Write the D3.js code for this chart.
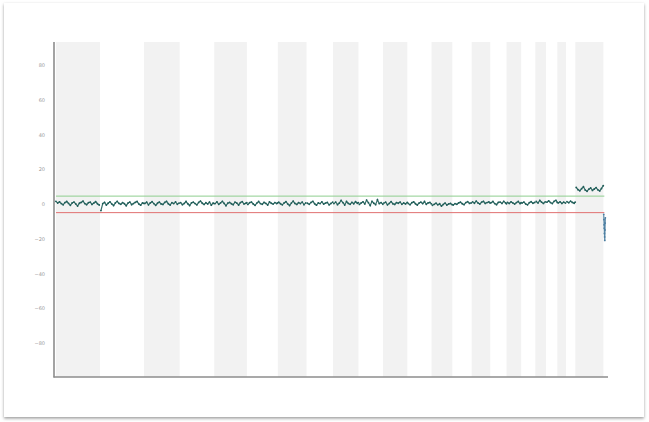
<!DOCTYPE html>
<html>
<head>
<meta charset="utf-8">
<script src="https://cdn.jsdelivr.net/npm/d3@7"></script>
<style>
  html, body { margin: 0; padding: 0; background: #ffffff; }
  svg { display: block; }
</style>
</head>
<body>
<svg id="chart" width="649" height="422"></svg>
<script>
// Chromosome names and lengths (Mb); Y only partly covered
const chromosomes = ["1","2","3","4","5","6","7","8","9","10","11","12","13","14","15","16","17","18","19","20","21","22","X","Y"];
const chromLengths = [249.3,243.2,198.0,191.2,180.9,171.1,159.1,146.4,141.2,135.5,135.0,133.9,115.2,107.3,102.5,90.4,81.2,78.1,59.1,63.0,48.1,51.3,155.3,15.0];

// Bin size (Mb) used for the per-chromosome values below
const binSize = 10;

// Copy-number deviation per bin, one list per chromosome
const chr1Values  = [1.5,0.5,1.2,0.2,-0.5,0.8,1.4,0.3,-0.8,0.6,1.1,0.0,-1.2,0.4,0.9,1.6,0.2,-0.4,0.7,1.0,-0.3,0.5,1.3,0.1,-0.6];
const chr2Values  = [-3.8,0.2,0.9,-0.6,0.4,1.2,0.0,-0.9,0.6,1.5,0.3,-0.2,0.8,0.1,-1.0,0.5,1.1,-0.4,0.2,0.9,1.4,0.0,-0.7,0.6,0.3];
const chr3Values  = [0.3,1.0,-0.5,0.6,1.3,0.2,-0.8,0.4,1.1,0.0,-0.3,0.9,1.5,0.1,-0.6,0.7,0.2,1.2,-0.2,0.5];
const chr4Values  = [0.8,-0.4,0.3,1.4,0.1,-0.9,0.6,1.0,0.2,-0.5,0.9,1.6,0.4,-0.3,0.7,0.0,1.1,-0.7,0.5,0.2];
const chr5Values  = [0.2,1.2,-0.2,0.6,1.5,0.3,-1.0,0.4,0.9,0.1,-0.4,1.0,0.5,-0.6,0.8,1.3,0.0,0.4,0.7];
const chr6Values  = [-0.3,0.7,1.1,0.0,-0.8,0.5,1.4,0.2,-0.2,0.9,0.3,-0.6,1.2,0.4,-0.1,0.8,0.2,0.6];
const chr7Values  = [1.0,0.1,-0.5,0.6,1.3,0.0,-0.9,0.5,1.6,0.3,-0.3,0.8,0.2,1.1,-0.4,0.6];
const chr8Values  = [0.4,-0.2,0.9,1.5,0.1,-0.7,0.6,0.2,1.2,-0.1,0.5,0.9,-0.5,0.3,1.0];
const chr9Values  = [0.2,1.1,-0.4,0.5,2.0,0.8,-0.6,1.4,0.3,-0.2,0.9,0.1,1.3,0.4,0.7];
const chr10Values = [-0.3,0.6,1.2,0.0,2.2,0.7,-0.9,1.5,0.4,-0.4,2.4,0.2,0.8,-0.2];
const chr11Values = [0.5,1.0,-0.5,0.3,1.3,0.1,-0.3,0.8,0.4,1.1,-0.2,0.6,0.0,0.9];
const chr12Values = [0.3,-0.4,0.7,1.2,0.1,-0.6,0.5,1.0,0.2,1.4,-0.2,0.6,0.9,0.0];
const chr13Values = [-0.8,-0.2,0.4,-0.5,0.1,-1.2,-0.3,0.5,-0.6,0.0,0.3,-0.4];
const chr14Values = [-0.6,0.2,-0.2,0.6,1.0,0.1,-0.4,0.8,1.3,0.3,0.6];
const chr15Values = [1.2,0.4,1.6,0.6,0.0,1.0,1.5,0.3,0.8,1.2,0.5];
const chr16Values = [0.7,1.4,0.2,-0.4,0.9,1.1,0.3,1.5,0.6,0.1];
const chr17Values = [0.9,0.3,1.2,0.6,-0.1,0.8,1.4,0.2,0.7];
const chr18Values = [0.5,1.1,0.0,-0.5,0.7,1.3,0.4,0.9];
const chr19Values = [1.4,0.6,2.0,1.0,0.3,1.2];
const chr20Values = [1.0,1.8,0.8,0.2,1.5,2.1,0.9];
const chr21Values = [0.6,1.2,0.3,1.0,0.5];
const chr22Values = [1.3,0.7,1.6,0.9,0.4,1.1];
const chrXValues  = [9.5,8.2,7.6,8.8,9.9,8.0,7.3,8.5,9.2,7.8,8.6,9.4,8.1,7.5,8.9,10.5];

// Y is covered only at its start: positions (Mb) and values
const chrYPositions = [2.0,3.0,4.0,5.0,6.0,7.0,8.0,9.0,10.0,11.0];
const chrYValues    = [-6,-9,-12,-14,-17,-19,-21,-15,-11,-8];

// Threshold levels and y-axis ticks
const gainThreshold = 4.5;
const lossThreshold = -5;
const yTicks = [80,60,40,20,0,-20,-40,-60,-80];

const binValues = [chr1Values,chr2Values,chr3Values,chr4Values,chr5Values,chr6Values,chr7Values,chr8Values,
  chr9Values,chr10Values,chr11Values,chr12Values,chr13Values,chr14Values,chr15Values,chr16Values,chr17Values,
  chr18Values,chr19Values,chr20Values,chr21Values,chr22Values,chrXValues];

// Cumulative genome offsets
const offsets = [];
let acc = 0;
chromLengths.forEach(l => { offsets.push(acc); acc += l; });
const genomeLength = acc;

// Build point series per chromosome
const series = binValues.map((vals, ci) => vals.map((v, i) => ({
  pos: offsets[ci] + Math.min((i + 0.5) * binSize, chromLengths[ci] - 0.5),
  value: v
})));
series.push(chrYValues.map((v, i) => ({ pos: offsets[23] + chrYPositions[i], value: v })));

const svg = d3.select("#chart");

// Card frame with soft shadow
const defs = svg.append("defs");
const f = defs.append("filter").attr("id", "shadow").attr("x", "-5%").attr("y", "-5%").attr("width", "110%").attr("height", "110%");
f.append("feDropShadow").attr("dx", 0).attr("dy", 1.5).attr("stdDeviation", 1.6).attr("flood-color", "#7a7a7a").attr("flood-opacity", 0.75);
svg.append("rect").attr("x", 4).attr("y", 3).attr("width", 640).attr("height", 414)
  .attr("fill", "#ffffff").attr("filter", "url(#shadow)");

const x = d3.scaleLinear().domain([0, genomeLength]).range([55, 55 + genomeLength * 0.1806]);
const y = d3.scaleLinear().domain([-99.6, 93.2]).range([377, 42]);

// Alternating chromosome bands
svg.append("g").selectAll("rect")
  .data(chromosomes.map((c, i) => ({ c, i, start: offsets[i], end: offsets[i] + chromLengths[i] })).filter(d => d.i % 2 === 0))
  .join("rect")
  .attr("x", d => Math.max(x(d.start), 56))
  .attr("width", d => x(d.end) - Math.max(x(d.start), 56))
  .attr("y", y(93.2))
  .attr("height", y(-99.6) - y(93.2))
  .attr("fill", "#f2f2f2");

// Threshold lines
svg.append("line").attr("x1", 56).attr("x2", x(offsets[23]) + 1)
  .attr("y1", y(gainThreshold)).attr("y2", y(gainThreshold))
  .attr("stroke", "#8fcf8f").attr("stroke-width", 1);
svg.append("line").attr("x1", 56).attr("x2", x(offsets[23]) + 1)
  .attr("y1", y(lossThreshold)).attr("y2", y(lossThreshold))
  .attr("stroke", "#e07070").attr("stroke-width", 1);

// Data trace
const line = d3.line().x(d => x(d.pos)).y(d => y(d.value)).curve(d3.curveLinear);
const gData = svg.append("g");
series.forEach((s, i) => {
  gData.append("path").datum(s).attr("d", line)
    .attr("fill", "none").attr("stroke", i === 23 ? "#4a7da0" : "#1f5d58").attr("stroke-width", 1.2)
    .attr("opacity", 0.9);
  gData.selectAll(null).data(s).join("circle")
    .attr("cx", d => x(d.pos)).attr("cy", d => y(d.value)).attr("r", 0.9)
    .attr("fill", i === 23 ? "#4a7da0" : "#1f5d58");
});

// Axes
const yAxis = svg.append("g").attr("transform", "translate(54,0)")
  .call(d3.axisLeft(y).tickValues(yTicks).tickSize(0).tickPadding(9));
yAxis.select(".domain").remove();
yAxis.selectAll("text").attr("fill", "#9a9a9a").style("font-size", "5px").style("font-family", "DejaVu Sans");

svg.append("line").attr("x1", 54).attr("x2", 54).attr("y1", 42).attr("y2", 377.5)
  .attr("stroke", "#8c8c8c").attr("stroke-width", 1.6);
svg.append("line").attr("x1", 53.5).attr("x2", 608).attr("y1", 377).attr("y2", 377)
  .attr("stroke", "#8c8c8c").attr("stroke-width", 1.6);
</script>
</body>
</html>
